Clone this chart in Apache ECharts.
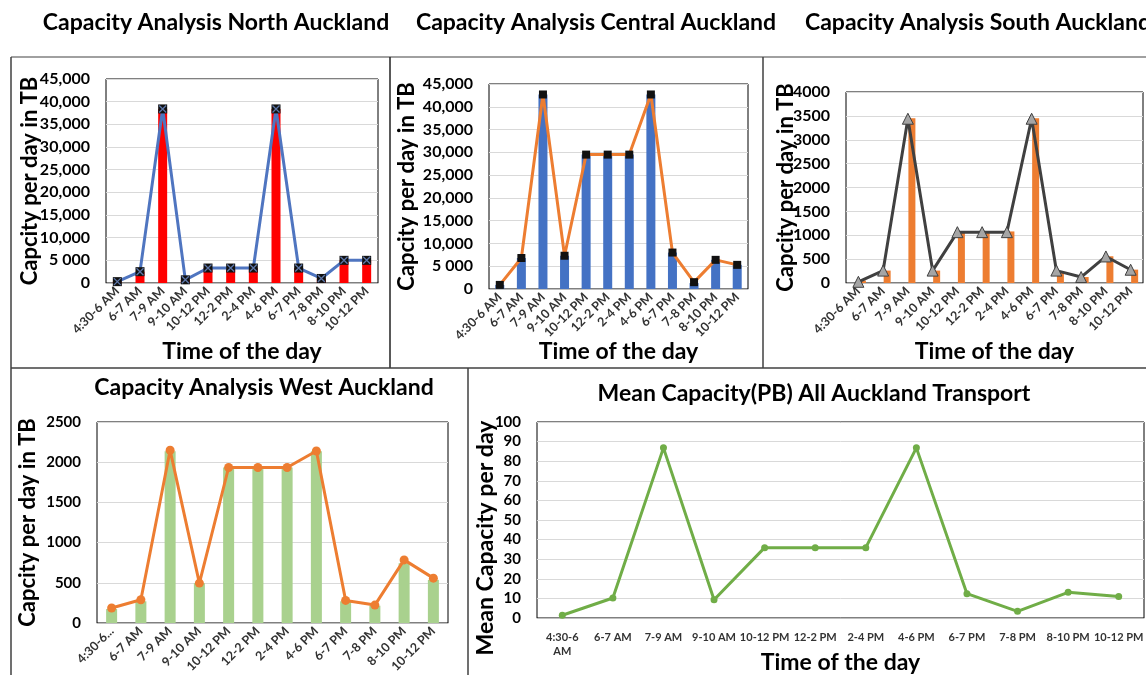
<!DOCTYPE html>
<html><head><meta charset="utf-8">
<script src="https://cdn.jsdelivr.net/npm/echarts@6/dist/echarts.min.js"></script>
<style>html,body{margin:0;padding:0;background:#fff}#c{width:1146px;height:675px}</style>
</head><body><div id="c"></div>
<script>
const categories = ['4:30-6 AM','6-7 AM','7-9 AM','9-10 AM','10-12 PM','12-2 PM','2-4 PM','4-6 PM','6-7 PM','7-8 PM','8-10 PM','10-12 PM'];
const westTickLabels = ['4:30-6...','6-7 AM','7-9 AM','9-10 AM','10-12 PM','12-2 PM','2-4 PM','4-6 PM','6-7 PM','7-8 PM','8-10 PM','10-12 PM'];
const meanTickLabels = ['4:30-6\nAM','6-7 AM','7-9 AM','9-10 AM','10-12 PM','12-2 PM','2-4 PM','4-6 PM','6-7 PM','7-8 PM','8-10 PM','10-12 PM'];
const tbTickLabels = ['0','5 000','10,000','15,000','20,000','25,000','30,000','35,000','40,000','45,000'];

const northBars = [300, 2500, 38400, 700, 3300, 3300, 3300, 38400, 3300, 1000, 5000, 5000];
const northLine = [300, 2500, 38400, 700, 3300, 3300, 3300, 38400, 3300, 1000, 5000, 5000];
const centralBars = [900, 6800, 42700, 7300, 29500, 29500, 29500, 42700, 8000, 1300, 6400, 5300];
const centralLine = [900, 6800, 42700, 7300, 29500, 29500, 29500, 42700, 8000, 1500, 6400, 5300];
const southBars = [50, 260, 3450, 260, 1060, 1060, 1080, 3450, 210, 125, 560, 280];
const southLine = [25, 260, 3440, 260, 1065, 1065, 1065, 3440, 260, 125, 556, 278];
const westBars = [174, 270, 2136, 496, 1934, 1934, 1934, 2136, 270, 215, 744, 537];
const westLine = [186, 289, 2149, 496, 1934, 1934, 1934, 2140, 281, 223, 785, 558];
const meanLine = [1.4, 10.2, 86.8, 9.3, 35.9, 35.9, 35.9, 86.8, 12.4, 3.4, 13.1, 11.0];

const F = 'Lato';
const chart = echarts.init(document.getElementById('c'), null, {renderer: 'canvas'});

const grids = [
  {left: 106, top: 79, width: 272, height: 204},
  {left: 489, top: 84, width: 259, height: 205},
  {left: 846, top: 92, width: 297, height: 191},
  {left: 97, top: 422, width: 351, height: 201},
  {left: 537, top: 422, width: 607, height: 196}
].map(g => Object.assign({show: true, borderColor: '#000', borderWidth: 1, backgroundColor: 'transparent', containLabel: false, outerBoundsMode: 'none'}, g));

const rotLabel = {interval: 0, rotate: 45, fontFamily: F, fontWeight: 'bold', fontSize: 12.5, color: '#333', margin: 6};
const nameStyle = {fontFamily: F, fontWeight: 'bold', fontSize: 23, color: '#000'};

function xAx(i, opt) {
  return Object.assign({
    type: 'category', gridIndex: i, data: categories, boundaryGap: true,
    axisTick: {show: false},
    axisLine: {lineStyle: {color: '#bfbfbf', width: 1}},
    axisLabel: rotLabel,
    name: 'Time of the day', nameLocation: 'middle', nameGap: 57, nameMoveOverlap: false,
    nameTextStyle: nameStyle
  }, opt || {});
}
function yAx(i, max, interval, fmt, size, gap, opt) {
  return Object.assign({
    type: 'value', gridIndex: i, min: 0, max: max, interval: interval,
    axisLine: {show: false}, axisTick: {show: false},
    splitLine: {lineStyle: {color: '#d9d9d9', width: 1}},
    axisLabel: {fontFamily: F, fontWeight: 'bold', fontSize: size, color: '#000', margin: 16, formatter: fmt},
    name: 'Capcity per day in TB', nameLocation: 'middle', nameRotate: 90, nameGap: gap, nameMoveOverlap: false,
    nameTextStyle: {fontFamily: F, fontWeight: 'bold', fontSize: 22, color: '#000'}
  }, opt || {});
}
const tbFmt = v => tbTickLabels[Math.round(v / 5000)];
const plainFmt = v => String(v);

const xAxes = [
  xAx(0, {nameGap: 57}),
  xAx(1, {nameGap: 51}),
  xAx(2, {nameGap: 57}),
  xAx(3, {name: '', axisLabel: Object.assign({}, rotLabel, {formatter: (v, idx) => westTickLabels[idx]})}),
  xAx(4, {nameGap: 33, axisLabel: {interval: 0, rotate: 0, fontFamily: F, fontWeight: 'bold', fontSize: 11, color: '#333', margin: 12, lineHeight: 14, formatter: (v, idx) => meanTickLabels[idx]}})
];
const yAxes = [
  yAx(0, 45000, 5000, tbFmt, 16, 65),
  yAx(1, 45000, 5000, tbFmt, 16, 71),
  yAx(2, 4000, 500, plainFmt, 16, 49),
  yAx(3, 2500, 500, plainFmt, 15, 58),
  yAx(4, 100, 10, plainFmt, 15, 40, {name: 'Mean Capacity per day',
    nameTextStyle: {fontFamily: F, fontWeight: 'bold', fontSize: 23, color: '#000', padding: [0, 36, 0, 0]}})
];

const series = [
  {type: 'bar', xAxisIndex: 0, yAxisIndex: 0, data: northBars, barWidth: 9, itemStyle: {color: '#ff0000'}},
  {type: 'line', xAxisIndex: 0, yAxisIndex: 0, data: northLine, lineStyle: {color: '#4f75c0', width: 3},
    symbol: 'rect', symbolSize: 9, itemStyle: {color: '#111'}, z: 3},
  {type: 'scatter', xAxisIndex: 0, yAxisIndex: 0, data: northLine, symbol: 'path://M0,0L10,10M10,0L0,10', symbolSize: 7,
    itemStyle: {color: 'transparent', borderColor: '#7090d0', borderWidth: 1.3}, z: 4},

  {type: 'bar', xAxisIndex: 1, yAxisIndex: 1, data: centralBars, barWidth: 9, itemStyle: {color: '#4472c4'}},
  {type: 'line', xAxisIndex: 1, yAxisIndex: 1, data: centralLine, lineStyle: {color: '#ed7d31', width: 3},
    symbol: 'rect', symbolSize: 8, itemStyle: {color: '#111'}, z: 3},

  {type: 'bar', xAxisIndex: 2, yAxisIndex: 2, data: [], barWidth: 7, barGap: '15%'},
  {type: 'bar', xAxisIndex: 2, yAxisIndex: 2, data: southBars, barWidth: 7, barGap: '15%', itemStyle: {color: '#ed7d31'}},
  {type: 'line', xAxisIndex: 2, yAxisIndex: 2, data: southLine, lineStyle: {color: '#404040', width: 3},
    symbol: 'triangle', symbolSize: 11, itemStyle: {color: '#a5a5a5', borderColor: '#404040', borderWidth: 1}, z: 3},

  {type: 'bar', xAxisIndex: 3, yAxisIndex: 3, data: westBars, barWidth: 11, itemStyle: {color: '#a9d18e'}},
  {type: 'line', xAxisIndex: 3, yAxisIndex: 3, data: westLine, lineStyle: {color: '#ed7d31', width: 3},
    symbol: 'circle', symbolSize: 9, itemStyle: {color: '#ed7d31'}, z: 3},

  {type: 'line', xAxisIndex: 4, yAxisIndex: 4, data: meanLine, lineStyle: {color: '#70ad47', width: 3},
    symbol: 'circle', symbolSize: 7, itemStyle: {color: '#70ad47'}, z: 3}
];

function txt(x, y, s, size) {
  return {type: 'text', x: x, y: y, z: 100,
    style: {text: s, fill: '#000', font: 'bold ' + size + 'px ' + F, align: 'center', verticalAlign: 'middle'}};
}
function ln(x1, y1, x2, y2, c, w) {
  return {type: 'line', z: 100, shape: {x1: x1, y1: y1, x2: x2, y2: y2}, style: {stroke: c, lineWidth: w}};
}
const graphic = [
  txt(216, 23, 'Capacity Analysis North Auckland', 23),
  txt(596, 23, 'Capacity Analysis Central Auckland', 23),
  txt(978, 23, 'Capacity Analysis South Auckland', 23),
  txt(264, 388, 'Capacity Analysis West Auckland', 23),
  txt(814, 394, 'Mean Capacity(PB) All Auckland Transport', 23),
  ln(11, 57, 1146, 57, '#808080', 1.5),
  ln(11, 57, 11, 675, '#404040', 1.5),
  ln(390, 57, 390, 368, '#222', 1.5),
  ln(763, 57, 763, 368, '#404040', 1.5),
  ln(11, 368, 1146, 368, '#404040', 1.5),
  ln(468, 368, 468, 675, '#404040', 1.5)
];

chart.setOption({
  animation: false,
  backgroundColor: '#fff',
  grid: grids,
  xAxis: xAxes,
  yAxis: yAxes,
  series: series,
  graphic: graphic
});
</script></body></html>
